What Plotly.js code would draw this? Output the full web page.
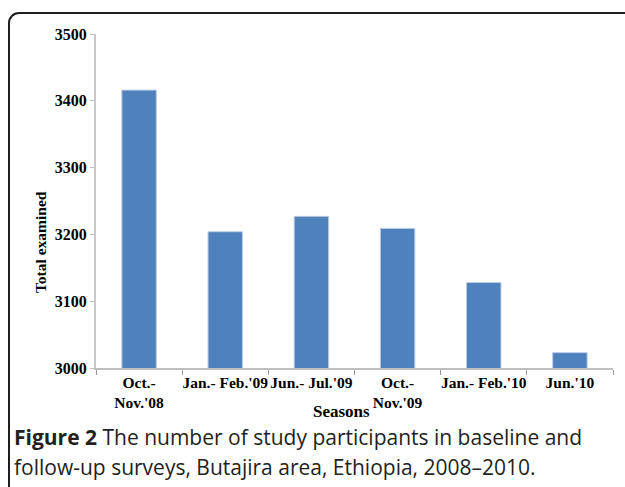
<!DOCTYPE html>
<html>
<head>
<meta charset="utf-8">
<script src="https://cdn.plot.ly/plotly-3.0.1.min.js"></script>
<style>
  html, body { margin: 0; padding: 0; background: #fff; }
  #wrap { position: relative; width: 625px; height: 487px; overflow: hidden; }
  #chart { position: absolute; left: 0; top: 0; width: 625px; height: 487px; }
  #frame { position: absolute; left: 8px; top: 12px; width: 700px; height: 600px;
           border: 2px solid #1e1e1e; border-radius: 11px; pointer-events: none; box-sizing: border-box; }
</style>
</head>
<body>
<div id="wrap">
  <div id="chart"></div>
  <div id="frame"></div>
</div>
<script>
const seasons = ["Oct.-<br>Nov.'08", "Jan.- Feb.'09", "Jun.- Jul.'09", "Oct.-<br>Nov.'09", "Jan.- Feb.'10", "Jun.'10"];
const totalExamined = [3416, 3204, 3227, 3209, 3128, 3023];
const yTickValues = [3000, 3100, 3200, 3300, 3400, 3500];

const serif = "Liberation Serif, Times New Roman, serif";
const sans = "Open Sans, Noto Sans, sans-serif";

const data = [{
  type: 'bar',
  x: seasons,
  y: totalExamined,
  marker: { color: '#4f81bd', line: { color: '#b9cde5', width: 1 } },
  hoverinfo: 'x+y'
}];

const layout = {
  width: 625,
  height: 487,
  margin: { l: 96, r: 12, t: 34, b: 119 },
  paper_bgcolor: 'rgba(0,0,0,0)',
  plot_bgcolor: 'rgba(0,0,0,0)',
  bargap: 0.6,
  showlegend: false,
  xaxis: {
    type: 'category',
    showline: true, linecolor: '#bfbfbf', linewidth: 1.5,
    ticks: 'outside', tickson: 'boundaries', ticklen: 5, tickcolor: '#9a9a9a',
    tickangle: 0,
    showgrid: false, zeroline: false,
    tickfont: { family: serif, size: 15.5, color: '#000', weight: 'bold' }
  },
  yaxis: {
    range: [3000, 3500],
    tickvals: yTickValues,
    showline: true, linecolor: '#c8c8c8', linewidth: 2,
    ticks: 'outside', ticklen: 4, tickcolor: '#bfbfbf',
    ticklabelstandoff: 0,
    showgrid: false, zeroline: false,
    tickfont: { family: serif, size: 16, color: '#000', weight: 'bold' }
  },
  annotations: [
    { text: 'Total examined', xref: 'paper', yref: 'paper', x: -0.1083, y: 0.377,
      textangle: -90, showarrow: false, xanchor: 'center', yanchor: 'middle',
      font: { family: serif, size: 15.5, color: '#000', weight: 'bold' } },
    { text: 'Seasons', xref: 'paper', yref: 'paper', x: 0.475, y: -0.1308,
      showarrow: false, xanchor: 'center', yanchor: 'middle',
      font: { family: serif, size: 17, color: '#000', weight: 'bold' } },
    { text: '<b>Figure 2</b> The number of study participants in baseline and', xref: 'paper', yref: 'paper',
      x: -0.1625, y: -0.2066, showarrow: false, xanchor: 'left', yanchor: 'middle', align: 'left',
      font: { family: sans, size: 21, color: '#231f20' } },
    { text: 'follow-up surveys, Butajira area, Ethiopia, 2008–2010.', xref: 'paper', yref: 'paper',
      x: -0.1625, y: -0.2964, showarrow: false, xanchor: 'left', yanchor: 'middle', align: 'left',
      font: { family: sans, size: 21, color: '#231f20' } }
  ]
};

Plotly.newPlot('chart', data, layout, { displayModeBar: false, staticPlot: true });
</script>
</body>
</html>
